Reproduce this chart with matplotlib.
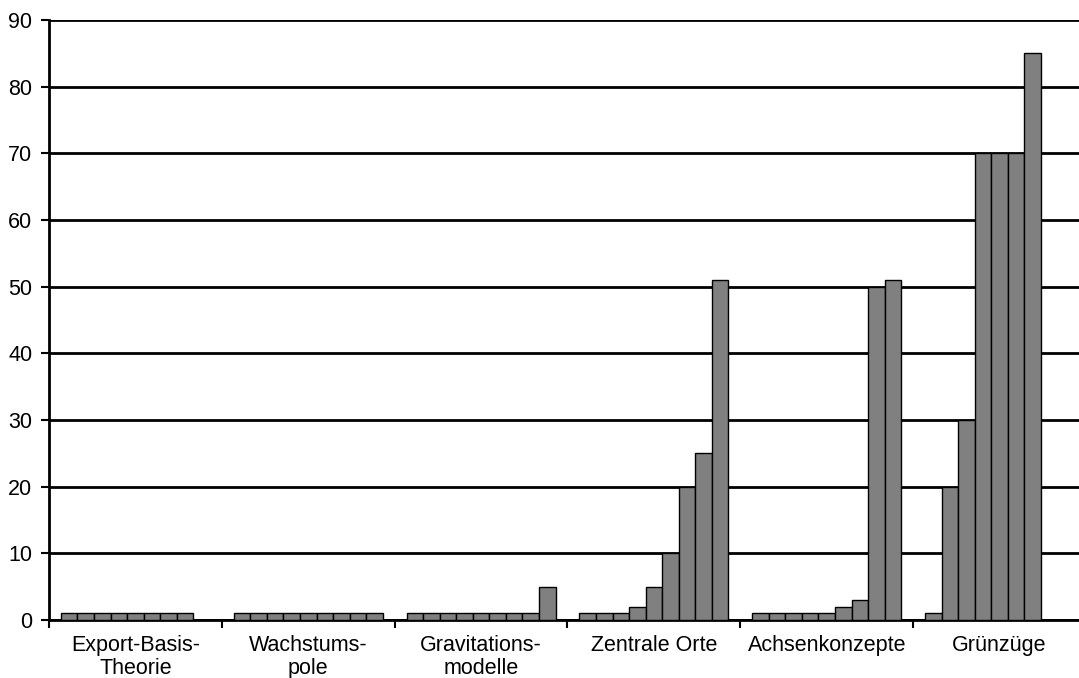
import numpy as np
import matplotlib.pyplot as plt

plt.rcParams['font.family'] = ['Liberation Sans', 'DejaVu Sans']

categories = ['Export-Basis-\nTheorie', 'Wachstums-\npole', 'Gravitations-\nmodelle',
              'Zentrale Orte', 'Achsenkonzepte', 'Grünzüge']

# one row per category, nine bars per group (nan = no bar)
export_basis = [1, 1, 1, 1, 1, 1, 1, 1, np.nan]
wachstumspole = [1, 1, 1, 1, 1, 1, 1, 1, 1]
gravitation = [1, 1, 1, 1, 1, 1, 1, 1, 5]
zentrale_orte = [1, 1, 1, 2, 5, 10, 20, 25, 51]
achsenkonzepte = [1, 1, 1, 1, 1, 2, 3, 50, 51]
gruenzuege = [1, 20, 30, 70, 70, 70, 85, np.nan, np.nan]

data = np.array([export_basis, wachstumspole, gravitation,
                 zentrale_orte, achsenkonzepte, gruenzuege], dtype=float)

fig = plt.figure(figsize=(10.79, 6.78), dpi=100)
# plot area runs a little past the right edge of the picture
ax = fig.add_axes([49 / 1079, 58 / 678, 1037 / 1079, 600 / 678])

n_series = data.shape[1]
x = np.arange(len(categories))
width = 0.862 / n_series
for i in range(n_series):
    offset = (i - (n_series - 1) / 2) * width
    vals = data[:, i]
    ok = ~np.isnan(vals)
    ax.bar(x[ok] + offset, vals[ok], width, color='#808080',
           edgecolor='black', linewidth=1.0, zorder=3)

ax.set_xlim(-0.5, len(categories) - 0.5)
ax.set_ylim(0, 90)
ax.set_yticks(range(0, 91, 10))
ax.yaxis.grid(True, color='black', linewidth=2.0)
ax.set_axisbelow(True)

# category boundary ticks, labels in the middle
ax.set_xticks(np.arange(-0.5, len(categories), 1.0))
ax.set_xticklabels([])
ax.set_xticks(x, minor=True)
ax.set_xticklabels(categories, minor=True, fontsize=15.5, linespacing=1.1)
ax.tick_params(axis='x', which='minor', length=0, pad=11)
ax.tick_params(axis='x', which='major', length=6, width=1.5, color='black')
ax.tick_params(axis='y', length=6, width=1.5, labelsize=15.5, pad=6)

for side in ['top', 'right']:
    ax.spines[side].set_visible(False)
ax.spines['left'].set_linewidth(2)
ax.spines['bottom'].set_linewidth(2)

fig.savefig('out.png', dpi=100)
